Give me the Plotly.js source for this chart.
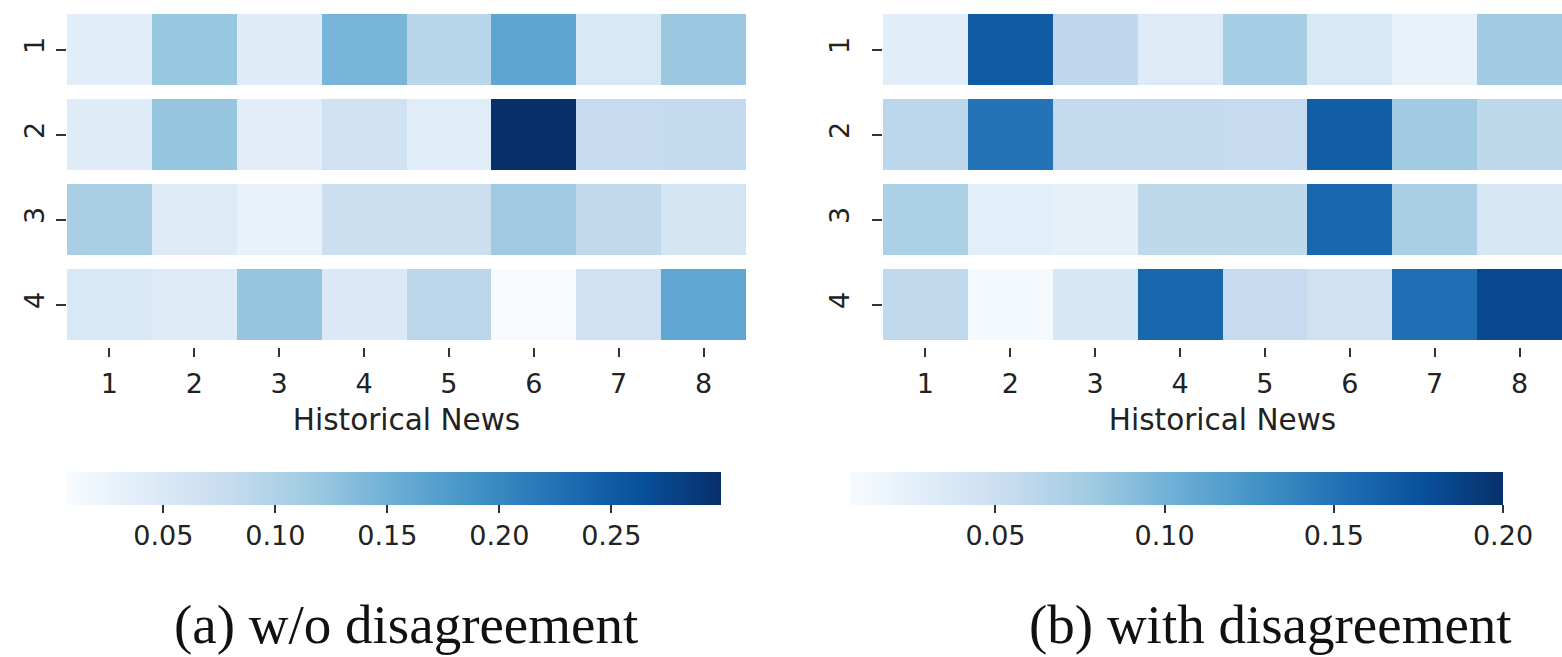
<!DOCTYPE html>
<html>
<head>
<meta charset="utf-8">
<script src="https://cdn.plot.ly/plotly-3.0.1.min.js"></script>
<style>
  html, body { margin: 0; padding: 0; background: #ffffff; }
  #chart { width: 1562px; height: 657px; }
</style>
</head>
<body>
<div id="chart"></div>
<script>
// Attention over historical news (columns) for each of four rows.
const newsIndex = [1, 2, 3, 4, 5, 6, 7, 8];
const rowIndex = [1, 2, 3, 4];

// (a) without disagreement
const weightsNoDisagreement = [
  [0.039, 0.121, 0.042, 0.144, 0.092, 0.165, 0.051, 0.118],
  [0.042, 0.123, 0.038, 0.065, 0.040, 0.299, 0.080, 0.082],
  [0.106, 0.043, 0.027, 0.071, 0.071, 0.116, 0.085, 0.060],
  [0.051, 0.044, 0.122, 0.048, 0.090, 0.007, 0.066, 0.163]
];

// (b) with disagreement
const weightsWithDisagreement = [
  [0.028, 0.168, 0.059, 0.031, 0.075, 0.036, 0.022, 0.078],
  [0.061, 0.150, 0.057, 0.057, 0.055, 0.166, 0.078, 0.060],
  [0.071, 0.027, 0.024, 0.060, 0.060, 0.160, 0.072, 0.038],
  [0.058, 0.009, 0.038, 0.160, 0.055, 0.045, 0.153, 0.182]
];

const colorTicksA = [0.05, 0.10, 0.15, 0.20, 0.25];
const colorTicksB = [0.05, 0.10, 0.15, 0.20];
const colorRangeA = [0.007, 0.299];
const colorRangeB = [0.007, 0.200];

const captionA = "(a) w/o disagreement";
const captionB = "(b) with disagreement";
const xTitle = "Historical News";

// matplotlib "Blues"
const blues = [
  [0.000, "#f7fbff"], [0.125, "#deebf7"], [0.250, "#c6dbef"],
  [0.375, "#9ecae1"], [0.500, "#6baed6"], [0.625, "#4292c6"],
  [0.750, "#2171b5"], [0.875, "#08519c"], [1.000, "#08306b"]
];

const W = 1562, H = 657;
const px = v => v / W;
const py = v => 1 - v / H;

const tickFont = { family: "DejaVu Sans", size: 27, color: "#222" };
const labelFont = { family: "DejaVu Sans", size: 29.5, color: "#222" };

function xAxis(left, right, anchor) {
  return {
    domain: [px(left), px(right)], anchor: anchor,
    range: [0.5, 8.5], tickvals: newsIndex, ticktext: newsIndex.map(String),
    ticks: "outside", ticklen: 9, tickwidth: 2, tickcolor: "#333",
    ticklabelstandoff: 4,
    showgrid: false, zeroline: false, showline: false,
    tickfont: tickFont,
    title: { text: xTitle, font: labelFont, standoff: 10 },
    fixedrange: true
  };
}
function yAxis(anchor, standoff) {
  return {
    domain: [py(347), py(7)], anchor: anchor,
    range: [4.5, 0.5], tickvals: rowIndex, ticktext: rowIndex.map(String),
    ticks: "outside", ticklen: 10, tickwidth: 2, tickcolor: "#333",
    tickangle: -90, ticklabelstandoff: standoff,
    showgrid: false, zeroline: false, showline: false,
    tickfont: tickFont, fixedrange: true
  };
}
function colorAxis(range, ticks, left, right) {
  return {
    cmin: range[0], cmax: range[1], colorscale: blues,
    colorbar: {
      orientation: "h", x: px(left), xanchor: "left",
      y: py(472), yanchor: "top", yref: "paper",
      len: (right - left) / W, lenmode: "fraction",
      thickness: 33, xpad: 0, ypad: 0, outlinewidth: 0,
      tickvals: ticks, ticktext: ticks.map(t => t.toFixed(2)),
      ticks: "outside", ticklen: 8, tickwidth: 2, tickcolor: "#333",
      tickfont: tickFont
    }
  };
}

const traces = [
  {
    type: "heatmap", x: newsIndex, y: rowIndex, z: weightsNoDisagreement,
    coloraxis: "coloraxis", xaxis: "x", yaxis: "y", ygap: 14,
    hoverinfo: "x+y+z"
  },
  {
    type: "heatmap", x: newsIndex, y: rowIndex, z: weightsWithDisagreement,
    coloraxis: "coloraxis2", xaxis: "x2", yaxis: "y2", ygap: 14,
    hoverinfo: "x+y+z"
  }
];

const captionFont = { family: "Liberation Serif", size: 55, color: "#111" };

const layout = {
  width: W, height: H,
  margin: { l: 0, r: 0, t: 0, b: 0 },
  paper_bgcolor: "#ffffff", plot_bgcolor: "#ffffff",
  showlegend: false,
  xaxis: xAxis(67, 746, "y"),
  yaxis: yAxis("x", 1),
  xaxis2: xAxis(883, 1562, "y2"),
  yaxis2: yAxis("x2", 12),
  coloraxis: colorAxis(colorRangeA, colorTicksA, 67, 721),
  coloraxis2: colorAxis(colorRangeB, colorTicksB, 850, 1503),
  annotations: [
    { text: captionA, x: px(406), y: py(624), xref: "paper", yref: "paper",
      xanchor: "center", yanchor: "middle", showarrow: false, font: captionFont },
    { text: captionB, x: px(1270), y: py(624), xref: "paper", yref: "paper",
      xanchor: "center", yanchor: "middle", showarrow: false, font: captionFont }
  ]
};

Plotly.newPlot("chart", traces, layout, { displayModeBar: false, staticPlot: true });
</script>
</body>
</html>
